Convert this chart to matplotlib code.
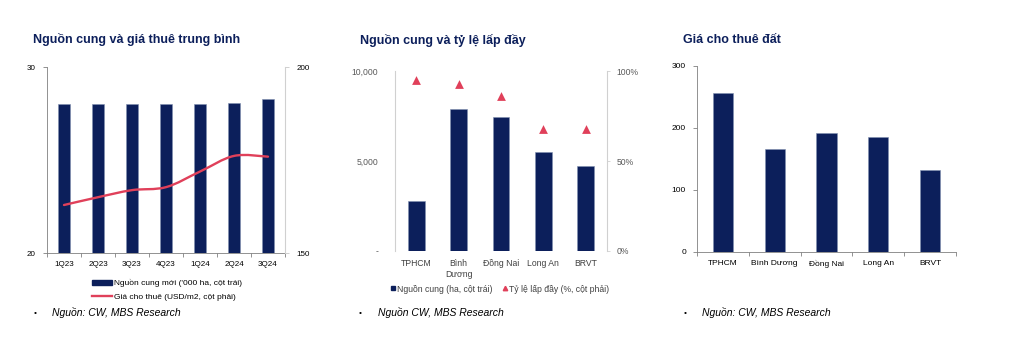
import numpy as np
import matplotlib
matplotlib.use("Agg")
import matplotlib.pyplot as plt
from matplotlib.path import Path
from matplotlib.patches import PathPatch, Patch
from matplotlib.lines import Line2D
from matplotlib.ticker import FuncFormatter, FixedLocator

plt.rcParams['font.family'] = ['Liberation Sans', 'DejaVu Sans']

# ---- data ----
quarters = ['1Q23', '2Q23', '3Q23', '4Q23', '1Q24', '2Q24', '3Q24']
supply_new = [28.0, 28.0, 28.0, 28.0, 28.0, 28.05, 28.3]      # '000 ha
rent_q = [162.9, 165.0, 166.9, 167.7, 171.9, 176.1, 175.9]      # USD/m2

provinces = ['TPHCM', 'Bình\nDương', 'Đồng Nai', 'Long An', 'BRVT']
supply_ha = [2780, 7870, 7430, 5480, 4740]
occupancy = [95, 93, 86, 68, 68]   # %

provinces3 = ['TPHCM', 'Bình Dương', 'Đồng Nai', 'Long An', 'BRVT']
land_rent = [256, 166, 192, 185, 132]

NAVY = '#0c1f5b'
RED = '#e0405a'
TITLE = '#0c1f5b'
W, H = 1026, 350

fig = plt.figure(figsize=(W / 100, H / 100), dpi=100)


def box(l, r, t, b):
    return [l / W, 1 - b / H, (r - l) / W, (b - t) / H]


def smooth(xs, ys):
    # catmull-rom -> cubic bezier, like excel smoothed line
    p = np.column_stack([xs, ys]).astype(float)
    p = np.vstack([p[0], p, p[-1]])
    verts = [p[1]]
    codes = [Path.MOVETO]
    for i in range(1, len(p) - 2):
        c1 = p[i] + (p[i + 1] - p[i - 1]) / 6
        c2 = p[i + 1] - (p[i + 2] - p[i]) / 6
        verts += [c1, c2, p[i + 1]]
        codes += [Path.CURVE4] * 3
    return Path(verts, codes)


# ---------------- chart 1 ----------------
ax1 = fig.add_axes(box(47, 285, 67, 253))
x = np.arange(len(quarters))
ax1.bar(x, supply_new, width=0.38, color=NAVY, edgecolor='#8090b0', linewidth=0.4, zorder=2)
ax1.set_ylim(20, 30)
ax1.set_xlim(-0.5, len(quarters) - 0.5)
ax1.set_yticks([20, 30])
ax1.set_xticks(x)
ax1.set_xticklabels(quarters)
ax1.xaxis.set_minor_locator(FixedLocator(np.arange(-0.5, len(quarters), 1)))
ax1.tick_params(axis='x', which='major', length=0, labelsize=5.8, pad=6)
ax1.tick_params(axis='x', which='minor', length=3, color='#808080', width=0.6)
ax1.tick_params(axis='y', length=3, color='#808080', width=0.6, labelsize=5.8, pad=5)
for s in ['top', 'right']:
    ax1.spines[s].set_visible(False)
ax1.spines['left'].set_color('#808080')
ax1.spines['bottom'].set_color('#808080')
ax1.spines['left'].set_linewidth(0.6)
ax1.spines['bottom'].set_linewidth(0.6)

ax1r = ax1.twinx()
ax1r.set_ylim(150, 200)
ax1r.set_yticks([150, 200])
ax1r.tick_params(axis='y', length=3, color='#c8c8c8', width=0.6, labelsize=5.8, pad=5)
for s in ['top', 'left', 'bottom']:
    ax1r.spines[s].set_visible(False)
ax1r.spines['right'].set_color('#d0d0d0')
ax1r.spines['right'].set_linewidth(0.8)
ax1r.add_patch(PathPatch(smooth(x, rent_q), fill=False, edgecolor=RED, linewidth=1.7,
                         capstyle='round', zorder=3))

fig.text(33 / W, 1 - 40 / H, 'Nguồn cung và giá thuê trung bình', fontsize=9,
         fontweight='bold', color=TITLE, va='center')
h1 = [Patch(facecolor=NAVY, edgecolor=NAVY),
      Line2D([], [], color=RED, linewidth=1.7)]
fig.legend(h1, ["Nguồn cung mới ('000 ha, cột trái)", 'Giá cho thuê (USD/m2, cột phải)'],
           loc='center', bbox_to_anchor=(167 / W, 1 - 290 / H), frameon=False,
           fontsize=6, handlelength=2.5, handleheight=0.5, handletextpad=0.25,
           labelspacing=0.75)

# ---------------- chart 2 ----------------
ax2 = fig.add_axes(box(395, 607, 71, 251))
x2 = np.arange(len(provinces))
ax2.bar(x2, supply_ha, width=0.4, color=NAVY, edgecolor='#8090b0', linewidth=0.4, zorder=2)
ax2.set_ylim(0, 10000)
ax2.set_xlim(-0.5, len(provinces) - 0.5)
ax2.set_yticks([0, 5000, 10000])
ax2.yaxis.set_major_formatter(FuncFormatter(lambda v, p: '-' if v == 0 else f'{v:,.0f}'))
ax2.set_xticks(x2)
ax2.set_xticklabels(provinces)
ax2.tick_params(axis='x', length=0, labelsize=6.2, labelcolor='#404040', pad=6)
ax2.tick_params(axis='y', length=0, labelsize=6.2, labelcolor='#595959', pad=12)
for s in ['top', 'right', 'bottom']:
    ax2.spines[s].set_visible(False)
ax2.spines['left'].set_color('#d0d0d0')
ax2.spines['left'].set_linewidth(0.8)

ax2r = ax2.twinx()
ax2r.scatter(x2, occupancy, marker='^', s=40, color=RED, zorder=3, linewidths=0)
ax2r.set_ylim(0, 100)
ax2r.set_yticks([0, 50, 100])
ax2r.yaxis.set_major_formatter(FuncFormatter(lambda v, p: f'{v:.0f}%'))
ax2r.tick_params(axis='y', length=2, color='#d0d0d0', width=0.6, labelsize=6.2,
                 labelcolor='#595959', pad=5)
for s in ['top', 'left', 'bottom']:
    ax2r.spines[s].set_visible(False)
ax2r.spines['right'].set_color('#d0d0d0')
ax2r.spines['right'].set_linewidth(0.8)

fig.text(360 / W, 1 - 40 / H, 'Nguồn cung và tỷ lệ lấp đầy', fontsize=9,
         fontweight='bold', color=TITLE, va='center')
h2 = [Line2D([], [], marker='s', linestyle='none', color=NAVY, markersize=3.2),
      Line2D([], [], marker='^', linestyle='none', color=RED, markersize=3.2)]
leg2 = fig.legend(h2, ['Nguồn cung (ha, cột trái)', 'Tỷ lệ lấp đầy (%, cột phải)'],
                  loc='center', bbox_to_anchor=(500 / W, 1 - 289 / H), frameon=False,
                  fontsize=6.2, ncol=2, handlelength=0.5, handletextpad=0.2,
                  columnspacing=1.3)
for t in leg2.get_texts():
    t.set_color('#404040')

# ---------------- chart 3 ----------------
ax3 = fig.add_axes(box(697, 956, 66, 252))
x3 = np.arange(len(provinces3))
ax3.bar(x3, land_rent, width=0.39, color=NAVY, edgecolor='#8090b0', linewidth=0.4, zorder=2)
ax3.set_ylim(0, 300)
ax3.set_xlim(-0.5, len(provinces3) - 0.5)
ax3.set_yticks([0, 100, 200, 300])
ax3.set_xticks(x3)
ax3.set_xticklabels(provinces3)
ax3.xaxis.set_minor_locator(FixedLocator(np.arange(-0.5, len(provinces3), 1)))
ax3.tick_params(axis='x', which='major', length=0, labelsize=6, pad=6)
ax3.tick_params(axis='x', which='minor', length=3, color='#808080', width=0.6)
ax3.tick_params(axis='y', length=3, color='#808080', width=0.6, labelsize=6, pad=5)
for s in ['top', 'right']:
    ax3.spines[s].set_visible(False)
for s in ['left', 'bottom']:
    ax3.spines[s].set_color('#808080')
    ax3.spines[s].set_linewidth(0.6)

fig.text(683 / W, 1 - 40 / H, 'Giá cho thuê đất', fontsize=9,
         fontweight='bold', color=TITLE, va='center')

# ---------------- sources ----------------
for bx, tx in [(35, 52), (360, 378), (685, 702)]:
    fig.text(bx / W, 1 - 313 / H, '•', fontsize=6, va='center', ha='center')
    fig.text(tx / W, 1 - 313 / H, 'Nguồn: CW, MBS Research' if bx != 360 else 'Nguồn CW, MBS Research',
             fontsize=7.5, style='italic', va='center')

fig.savefig('out.png', dpi=100)
